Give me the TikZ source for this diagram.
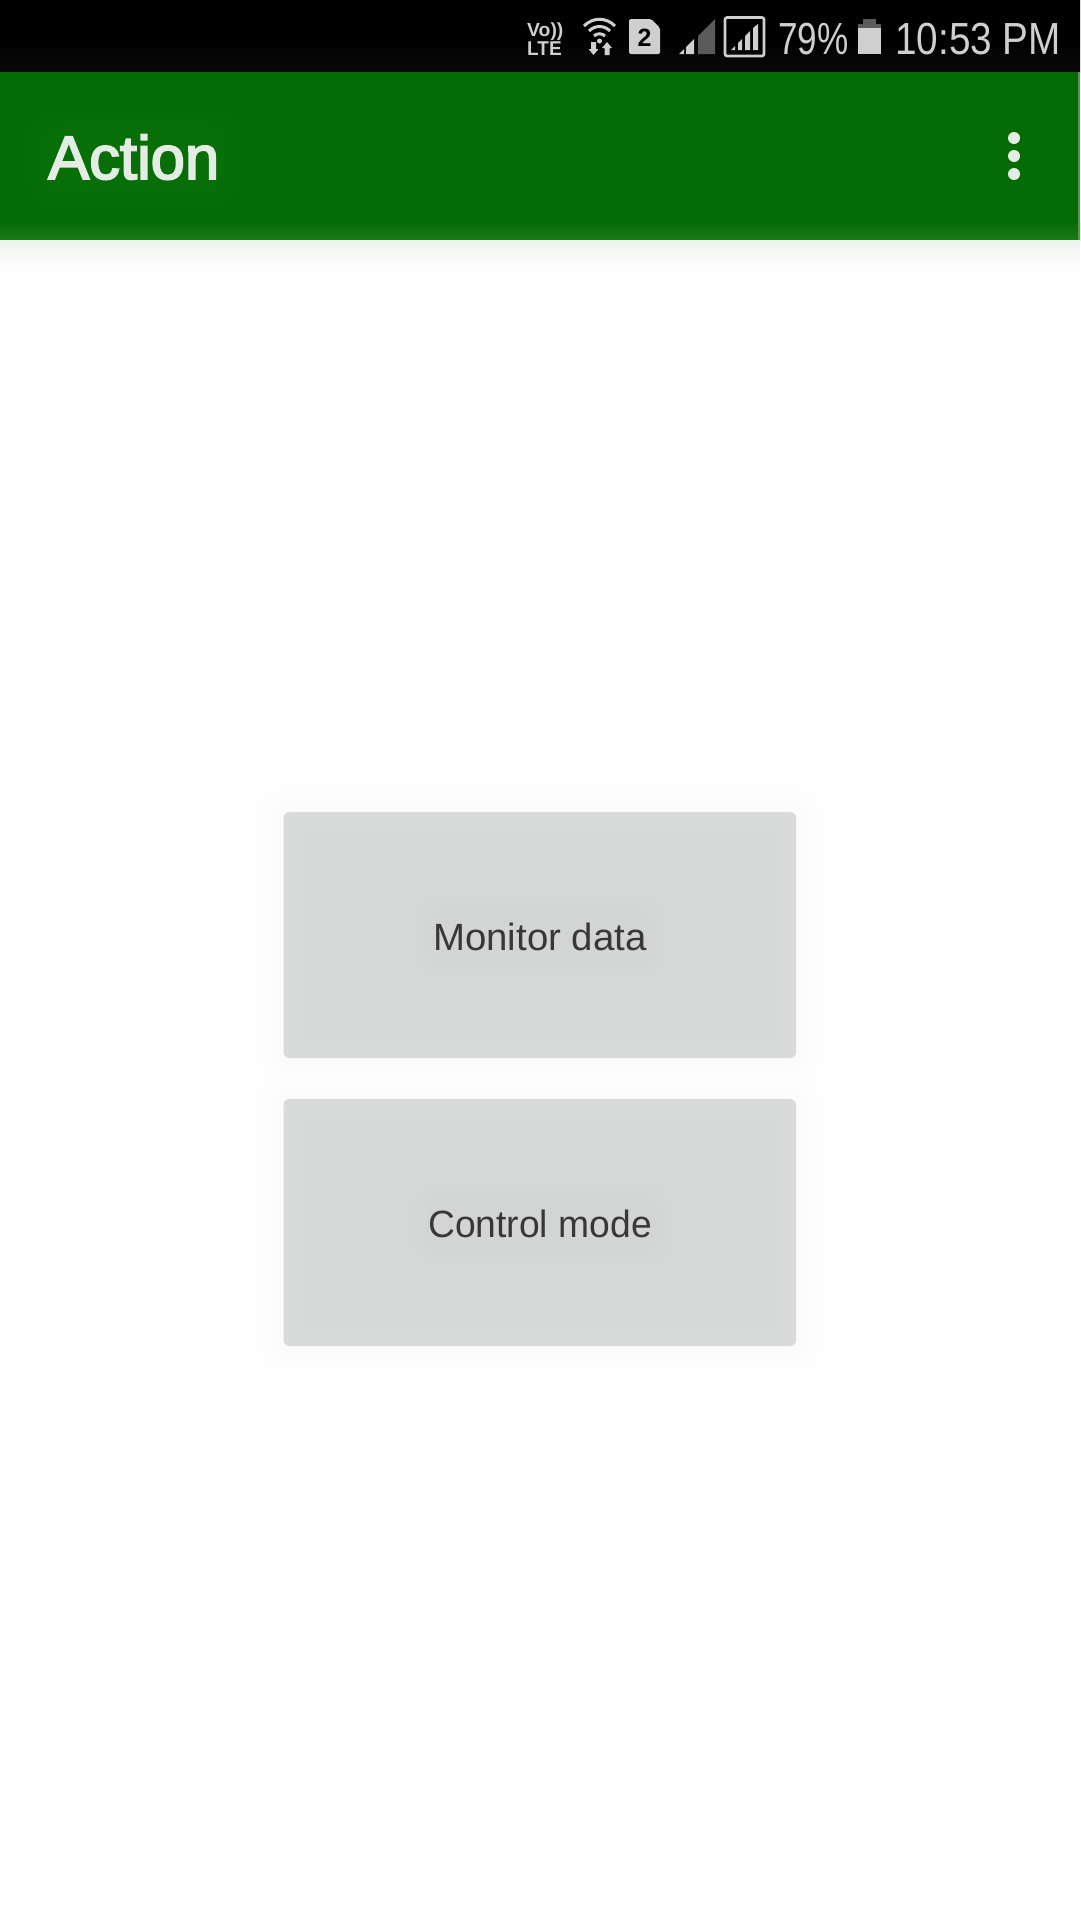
\documentclass[tikz,border=0pt]{standalone}
\usepackage{fontspec}
\usepackage{graphicx}
\setmainfont{Liberation Sans}
\definecolor{pagebg}{HTML}{FEFEFE}
\definecolor{barblack}{HTML}{000000}
\definecolor{bardark}{HTML}{070907}
\definecolor{appgreen}{HTML}{056B05}
\definecolor{appgreenlow}{HTML}{1B7A17}
\definecolor{appedge}{HTML}{5C935C}
\definecolor{apptext}{HTML}{E3EDE3}
\definecolor{shadowtop}{HTML}{EEF2EE}
\definecolor{btnedge}{HTML}{D9DADA}
\definecolor{btnmida}{HTML}{D8D9D9}
\definecolor{btnmidb}{HTML}{D7D8D8}
\definecolor{btnfill}{HTML}{D6D7D7}
\definecolor{btntext}{HTML}{383838}
\definecolor{iconlight}{HTML}{CFCFCF}
\definecolor{icondim}{HTML}{5A5A5A}
\tikzset{
  x=1pt,y=-1pt,
  stat/.style={inner sep=0pt,text=iconlight,anchor=base west},
  btnshape/.style={rounded corners=6pt,fill=btnedge},
  btnlabel/.style={inner sep=0pt,anchor=base,text=btntext,font=\fontsize{38}{38}\selectfont},
  haloapp/.style={fill=white,opacity=.006,rounded corners=24pt},
  halobtn/.style={fill=black,opacity=.005,rounded corners=24pt},
  glow/.style={fill=black,opacity=.004,rounded corners=24pt},
  wifiarc/.style={draw=iconlight,line width=3pt,line cap=butt},
  dot/.style={circle,fill=apptext,minimum size=12pt,inner sep=0pt}
}
\newcommand{\btnglow}[4]{%
  \foreach \d in {6,14,22}{\fill[glow] (#1-\d,#2-\d) rectangle (#3+\d,#4+\d);}%
}
\newcommand{\btninner}[4]{%
  \fill[btnmida,rounded corners=10pt] (#1+10,#2+10) rectangle (#3-10,#4-10);%
  \fill[btnmidb,rounded corners=10pt] (#1+20,#2+20) rectangle (#3-20,#4-20);%
  \fill[btnfill,rounded corners=10pt] (#1+30,#2+30) rectangle (#3-30,#4-30);%
}
\begin{document}
\begin{tikzpicture}
\useasboundingbox (0,0) rectangle (1080,1920);
\fill[pagebg] (0,0) rectangle (1080,1920);
% status bar
\shade[top color=barblack,bottom color=bardark,middle color=barblack] (0,0) rectangle (1080,72);
% app bar
\fill[appgreen] (0,72) rectangle (1080,222);
\shade[top color=appgreen,bottom color=appgreenlow] (0,222) rectangle (1080,240);
\fill[appedge] (1078,72) rectangle (1080,240);
\shade[top color=shadowtop,bottom color=pagebg] (0,240) rectangle (1080,268);
% title + menu
\foreach \d in {4,12,20}{\fill[haloapp] (48-\d,130-\d) rectangle (220+\d,186+\d);}
\node[inner sep=0pt,anchor=base west,text=apptext,font=\fontsize{61.5}{62}\selectfont] (title) at (48,179)
  {\addfontfeatures{FakeBold=3}Action};
\node[dot] (menua) at (1014,138) {};
\node[dot] (menub) at (1014,156) {};
\node[dot] (menuc) at (1014,174) {};
% status icons
\node[stat,font=\bfseries\fontsize{19}{19}\selectfont] (volte) at (527,36) {\scalebox{1.02}[1]{Vo))}};
\node[stat,font=\bfseries\fontsize{20}{20}\selectfont] (lte) at (527,55) {\scalebox{.95}[1]{LTE}};
% wifi
\draw[wifiarc] (584,26) .. controls (593,17) and (606,17) .. (615,26);
\draw[wifiarc] (589,31) .. controls (595,25) and (604,25) .. (610,31);
\draw[wifiarc] (594,36) .. controls (597,33) and (602,33) .. (605,36);
\fill[iconlight] (599.5,41) circle (2.5pt);
\fill[iconlight] (591,42) -- (596,42) -- (596,49) -- (598.5,49) -- (593.5,55) -- (588.5,49) -- (591,49) -- cycle;
\fill[iconlight] (607,42) -- (612,48) -- (609.5,48) -- (609.5,55) -- (604.5,55) -- (604.5,48) -- (602,48) -- cycle;
% SIM
\fill[iconlight,rounded corners=1.5pt] (629,19) -- (651,19) -- (660,28) -- (660,54) -- (629,54) -- cycle;
\node[inner sep=0pt,anchor=base,text=black,font=\bfseries\fontsize{25}{25}\selectfont] (simtwo) at (644.5,46) {2};
% signal 1
\fill[icondim] (715,19) -- (715,54) -- (698,54) -- (698,36) -- cycle;
\fill[iconlight] (679,54) -- (684,49) -- (684,54) -- cycle;
\fill[iconlight] (686,54) -- (686,47) -- (694,39) -- (694,54) -- cycle;
% signal 2
\draw[iconlight,line width=2.6pt,rounded corners=2pt] (725,17.5) rectangle (764,56);
\fill[iconlight] (731,50) -- (735,46) -- (735,50) -- cycle;
\fill[iconlight] (738,50) -- (738,43) -- (742,39) -- (742,50) -- cycle;
\fill[iconlight] (745,50) -- (745,36) -- (750,31) -- (750,50) -- cycle;
\fill[iconlight] (753,50) -- (753,28) -- (758,24) -- (758,50) -- cycle;
% percent, battery, clock
\node[stat,font=\fontsize{45}{45}\selectfont] (pct) at (778,54) {\scalebox{.78}[1]{79\%}};
\fill[icondim] (863,19) rectangle (876,24);
\fill[icondim] (858,24) rectangle (881,28);
\fill[iconlight] (858,28) rectangle (881,54);
\node[stat,font=\fontsize{45}{45}\selectfont] (clock) at (895,54) {\scalebox{.86}[1]{10:53 PM}};
% buttons
\btnglow{283.5}{812}{796}{1058}
\btnglow{283.5}{1099}{796}{1346}
\fill[btnshape] (283.5,812) rectangle (796,1058);
\fill[btnshape] (283.5,1099) rectangle (796,1346);
\btninner{283.5}{812}{796}{1058}
\btninner{283.5}{1099}{796}{1346}
\foreach \d in {4,10,16}{\fill[halobtn] (435-\d,915-\d) rectangle (647+\d,960+\d);}
\foreach \d in {4,10,16}{\fill[halobtn] (430-\d,1202-\d) rectangle (652+\d,1247+\d);}
\node[btnlabel] (monitor) at (540,950) {\scalebox{1.01}[1]{Monitor data}};
\node[btnlabel] (control) at (540,1237) {\scalebox{.98}[1]{Control mode}};
\end{tikzpicture}
\end{document}
